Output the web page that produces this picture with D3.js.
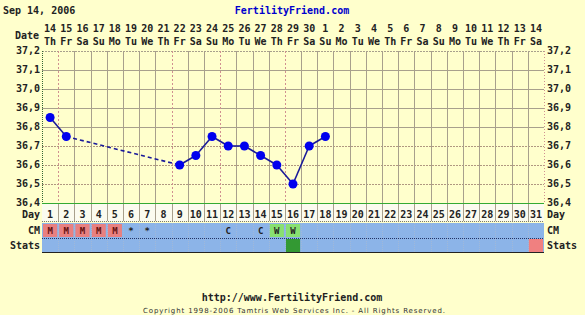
<!DOCTYPE html>
<html>
<head>
<meta charset="utf-8">
<script src="https://cdn.jsdelivr.net/npm/d3@7"></script>
<style>
  body { margin: 0; background: #ffffcc; }
  text { font-family: "DejaVu Sans Mono", monospace; font-weight: bold; }
  text.fine { font-family: "DejaVu Sans", sans-serif; font-weight: normal; }
</style>
</head>
<body>
<svg id="chart" width="585" height="315"></svg>
<script>
// cycle days and calendar labels
var days = d3.range(1, 32)
var dates = ['14','15','16','17','18','19','20','21','22','23','24','25','26','27','28','29','30','1','2','3','4','5','6','7','8','9','10','11','12','13','14']
var weekdays = ['Th','Fr','Sa','Su','Mo','Tu','We','Th','Fr','Sa','Su','Mo','Tu','We','Th','Fr','Sa','Su','Mo','Tu','We','Th','Fr','Sa','Su','Mo','Tu','We','Th','Fr','Sa']

// temperatures (days without a reading are skipped)
var tempDays = [1, 2, 9, 10, 11, 12, 13, 14, 15, 16, 17, 18]
var temps = [36.85, 36.75, 36.60, 36.65, 36.75, 36.70, 36.70, 36.65, 36.60, 36.50, 36.70, 36.75]

var yTicks = [36.4, 36.5, 36.6, 36.7, 36.8, 36.9, 37.0, 37.1, 37.2]

// cervical mucus row
var cmDays = [1, 2, 3, 4, 5, 6, 7, 12, 14, 15, 16]
var cmLabels = ['M', 'M', 'M', 'M', 'M', '*', '*', 'C', 'C', 'W', 'W']
var cmKinds = ['m', 'm', 'm', 'm', 'm', '', '', '', '', 'w', 'w']

// stats row
var statDays = [16, 31]
var statKinds = ['ov', 'end']

var fills = { m: '#e88080', w: '#88e070', ov: '#339933', end: '#f08080' }

var svg = d3.select('#chart')

var x = d3.scaleBand().domain(days).range([42, 544])
var y = d3.scaleLinear().domain([36.4, 37.2]).range([203, 51])
var bw = x.bandwidth()

// header
svg.append('text').attr('x', 3).attr('y', 14).attr('font-size', 10).attr('fill', '#222').text('Sep 14, 2006')
svg.append('text').attr('x', 292).attr('y', 14).attr('font-size', 10).attr('fill', '#0000cc')
  .attr('text-anchor', 'middle').text('FertilityFriend.com')

svg.append('text').attr('x', 39).attr('y', 39).attr('font-size', 10).attr('fill', '#222')
  .attr('text-anchor', 'end').text('Date')

svg.selectAll('text.date').data(days).enter().append('text')
  .attr('class', 'date')
  .attr('x', d => x(d) + bw / 2).attr('y', 32)
  .attr('font-size', 10).attr('fill', '#222').attr('text-anchor', 'middle')
  .text((d, i) => dates[i])

svg.selectAll('text.wd').data(days).enter().append('text')
  .attr('class', 'wd')
  .attr('x', d => x(d) + bw / 2).attr('y', 45)
  .attr('font-size', 10).attr('fill', '#222').attr('text-anchor', 'middle')
  .text((d, i) => weekdays[i])

// grid
var grid = svg.append('g')
var dottedY = [36.5, 36.6, 36.7]
var isDotY = d => dottedY.some(v => Math.abs(v - d) < 1e-6)
grid.selectAll('line.h').data(yTicks.slice(1)).enter().append('line')
  .attr('x1', 42).attr('x2', 544)
  .attr('y1', d => Math.round(y(d)) + 0.5).attr('y2', d => Math.round(y(d)) + 0.5)
  .attr('stroke', d => isDotY(d) ? '#b09880' : '#a8a08c')
  .attr('stroke-dasharray', d => (isDotY(d) || d > 37.15) ? '2,1' : null)

var dottedX = [1, 8, 11, 15]
grid.selectAll('line.v').data(d3.range(1, 31)).enter().append('line')
  .attr('x1', d => Math.round(x(d + 1)) + 0.5).attr('x2', d => Math.round(x(d + 1)) + 0.5)
  .attr('y1', 51).attr('y2', 203)
  .attr('stroke', d => dottedX.includes(d) ? '#d09090' : '#a8a08c')
  .attr('stroke-dasharray', d => dottedX.includes(d) ? '2,2' : null)

grid.append('line').attr('x1', 544.5).attr('x2', 544.5).attr('y1', 51).attr('y2', 203)
  .attr('stroke', '#d09090').attr('stroke-dasharray', '1,2')
grid.append('line').attr('x1', 42.5).attr('x2', 42.5).attr('y1', 51).attr('y2', 203)
  .attr('stroke', '#336633').attr('stroke-dasharray', '1,1')
grid.append('line').attr('x1', 42).attr('x2', 544).attr('y1', 203.5).attr('y2', 203.5)
  .attr('stroke', '#33aa33')

// temperature axis labels, both sides
svg.selectAll('text.yl').data(yTicks).enter().append('text')
  .attr('class', 'yl').attr('x', 40).attr('y', d => y(d) + 3)
  .attr('font-size', 10).attr('fill', '#222').attr('text-anchor', 'end')
  .text(d => d.toFixed(1).replace('.', ','))
svg.selectAll('text.yr').data(yTicks).enter().append('text')
  .attr('class', 'yr').attr('x', 547).attr('y', d => y(d) + 3)
  .attr('font-size', 10).attr('fill', '#222')
  .text(d => d.toFixed(1).replace('.', ','))

// temperature line: solid for consecutive days, dashed across gaps
var pts = tempDays.map((d, i) => ({ day: d, t: temps[i] }))
for (var i = 1; i < pts.length; i++) {
  var a = pts[i - 1], b = pts[i]
  svg.append('line')
    .attr('x1', x(a.day) + bw / 2).attr('y1', y(a.t))
    .attr('x2', x(b.day) + bw / 2).attr('y2', y(b.t))
    .attr('stroke', '#1a1a99').attr('stroke-width', 1.6)
    .attr('stroke-dasharray', b.day - a.day > 1 ? '4,3' : null)
}
svg.selectAll('circle.pt').data(pts).enter().append('circle')
  .attr('cx', d => x(d.day) + bw / 2).attr('cy', d => y(d.t)).attr('r', 4.5)
  .attr('fill', '#0000ee')

// Day row
var dayRow = svg.append('g')
dayRow.append('rect').attr('x', 42).attr('y', 204).attr('width', 502).attr('height', 17).attr('fill', '#fbfbef')
dayRow.selectAll('line').data(d3.range(1, 31)).enter().append('line')
  .attr('x1', d => Math.round(x(d + 1)) + 0.5).attr('x2', d => Math.round(x(d + 1)) + 0.5)
  .attr('y1', 204).attr('y2', 221).attr('stroke', '#a8a08c')
dayRow.append('line').attr('x1', 42).attr('x2', 544).attr('y1', 221.5).attr('y2', 221.5)
  .attr('stroke', '#777').attr('stroke-dasharray', '1,1')
dayRow.selectAll('text').data(days).enter().append('text')
  .attr('x', d => x(d) + bw / 2).attr('y', 218)
  .attr('font-size', 10).attr('fill', '#222').attr('text-anchor', 'middle').text(d => d)

// CM and Stats rows
svg.append('rect').attr('x', 42).attr('y', 223).attr('width', 502).attr('height', 29).attr('fill', '#8cb4e8')
svg.selectAll('rect.cm').data(cmDays.filter((d, i) => cmKinds[i])).enter().append('rect')
  .attr('class', 'cm')
  .attr('x', d => x(d) + 1).attr('y', 224).attr('width', bw - 2).attr('height', 13)
  .attr('fill', d => fills[cmKinds[cmDays.indexOf(d)]])
svg.selectAll('rect.st').data(statDays).enter().append('rect')
  .attr('class', 'st')
  .attr('x', d => x(d) + 1).attr('y', 239).attr('width', bw - 2).attr('height', 13)
  .attr('fill', (d, i) => fills[statKinds[i]])
svg.selectAll('line.rowv').data(d3.range(1, 31)).enter().append('line')
  .attr('class', 'rowv')
  .attr('x1', d => Math.round(x(d + 1)) + 0.5).attr('x2', d => Math.round(x(d + 1)) + 0.5)
  .attr('y1', 223).attr('y2', 252).attr('stroke', '#a0b8d8').attr('stroke-dasharray', '1,1')
svg.append('line').attr('x1', 42).attr('x2', 544).attr('y1', 238.5).attr('y2', 238.5)
  .attr('stroke', '#223366').attr('stroke-dasharray', '1,1')
svg.append('line').attr('x1', 42).attr('x2', 544).attr('y1', 252.5).attr('y2', 252.5)
  .attr('stroke', '#222')
svg.selectAll('text.cm').data(cmDays).enter().append('text')
  .attr('class', 'cm')
  .attr('x', d => x(d) + bw / 2).attr('y', 234)
  .attr('font-size', 9).attr('fill', (d, i) => cmKinds[i] === 'm' ? '#661111' : '#222')
  .attr('text-anchor', 'middle').text((d, i) => cmLabels[i])

// row labels on both sides
var rowLabels = [['Day', 218], ['CM', 234], ['Stats', 249]]
rowLabels.forEach(r => {
  svg.append('text').attr('x', 40).attr('y', r[1]).attr('font-size', 10).attr('fill', '#222')
    .attr('text-anchor', 'end').text(r[0])
  svg.append('text').attr('x', 547).attr('y', r[1]).attr('font-size', 10).attr('fill', '#222').text(r[0])
})

// footer
svg.append('text').attr('x', 292).attr('y', 301).attr('font-size', 10).attr('fill', '#222')
  .attr('text-anchor', 'middle').text('http://www.FertilityFriend.com')
svg.append('text').attr('class', 'fine').attr('x', 294).attr('y', 313).attr('font-size', 7).attr('fill', '#333')
  .attr('text-anchor', 'middle').attr('textLength', 302)
  .text('Copyright 1998-2006 Tamtris Web Services Inc. - All Rights Reserved.')
</script>
</body>
</html>
